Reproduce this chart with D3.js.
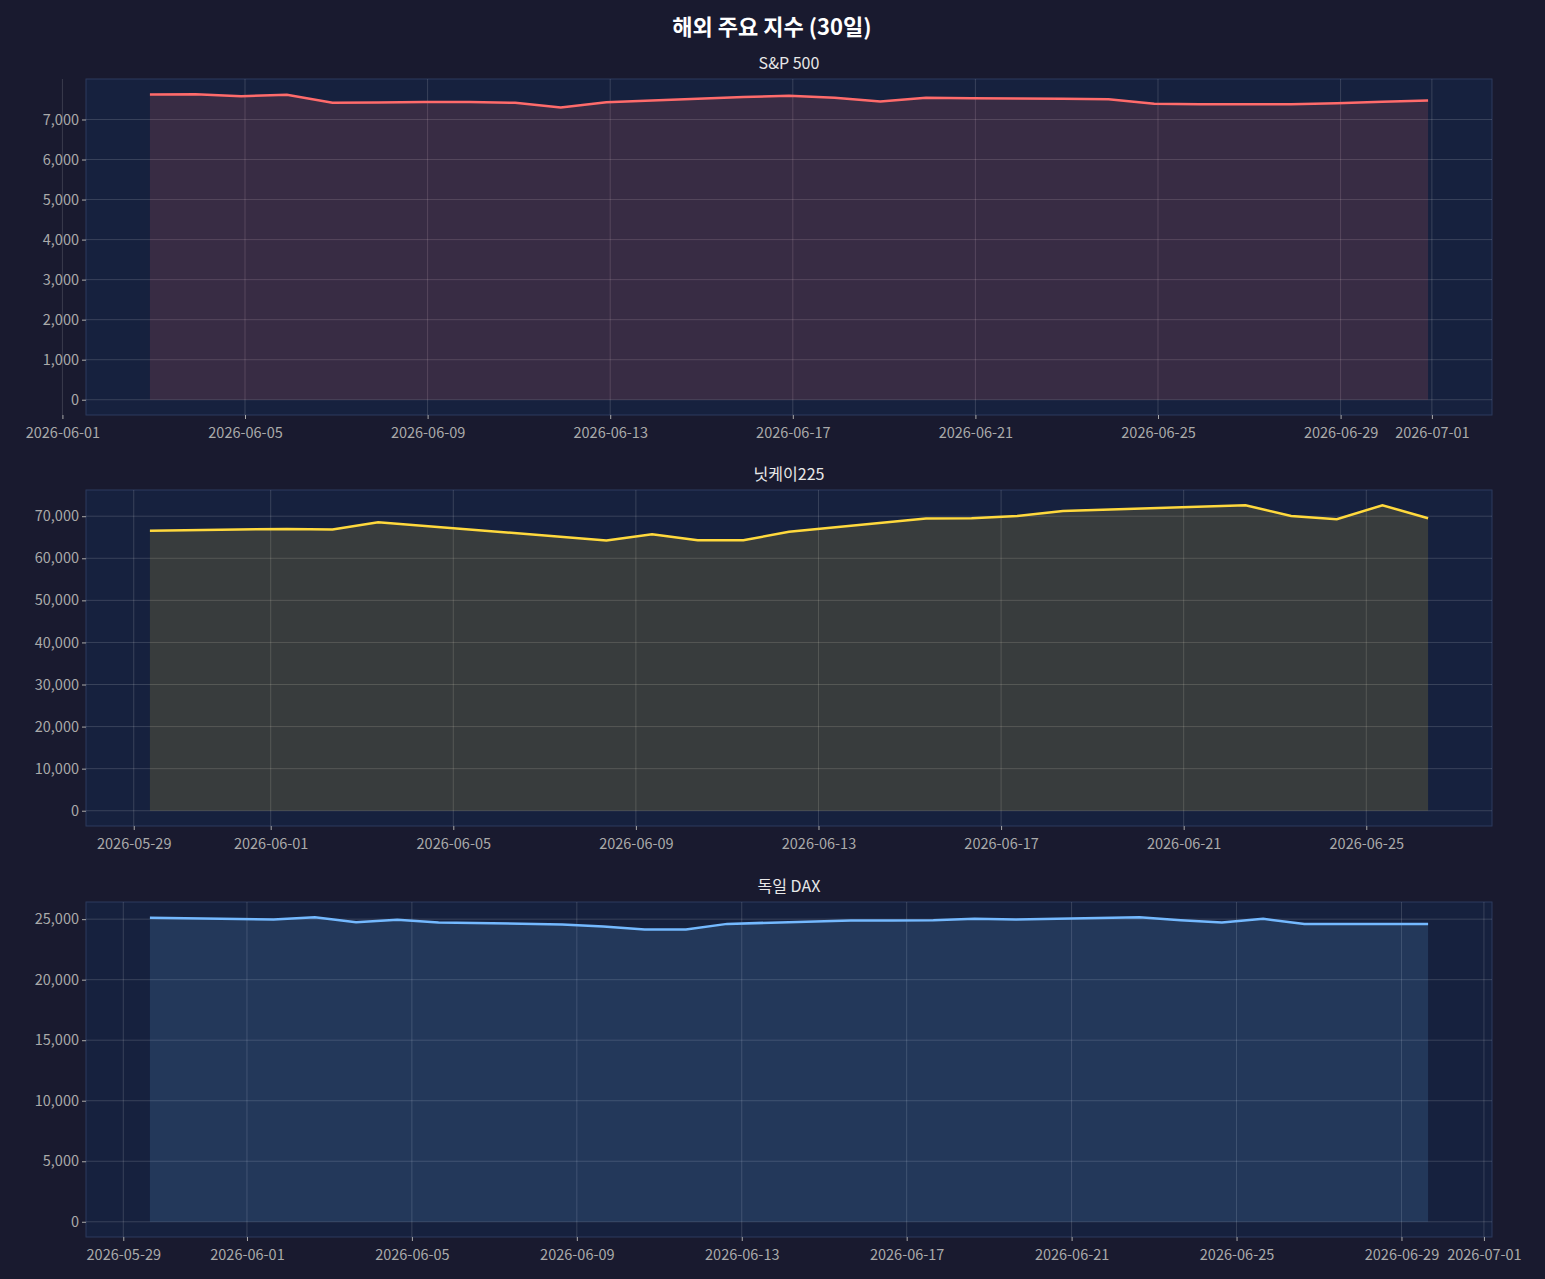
<!DOCTYPE html>
<html><head><meta charset="utf-8">
<script src="https://cdn.jsdelivr.net/npm/d3@7"></script>
<style>
body{margin:0;background:#191a2f;}
text{font-family:"Noto Sans CJK KR","Noto Sans",sans-serif;}
</style></head>
<body><svg id="chart" width="1545" height="1279"></svg>
<script>
// S&P 500 (daily, ~22:00)
const spDates = ["06-02","06-03","06-04","06-05","06-06","06-07","06-08","06-09","06-10","06-11","06-12","06-13","06-14","06-15","06-16","06-17","06-18","06-19","06-20","06-21","06-22","06-23","06-24","06-25","06-26","06-27","06-28","06-29","06-30"];
const spValues = [7625,7630,7583,7620,7417,7425,7435,7440,7417,7300,7433,7475,7517,7560,7592,7542,7450,7542,7533,7525,7517,7508,7392,7383,7383,7383,7408,7442,7475];
// 닛케이225 (trading days, ~08:30)
const nkDates = ["05-29","06-01","06-02","06-03","06-08","06-09","06-10","06-11","06-12","06-15","06-16","06-17","06-18","06-22","06-23","06-24","06-25","06-26"];
const nkValues = [66520,66990,66830,68580,64230,65730,64300,64300,66280,69450,69530,70070,71260,72600,70070,69290,72600,69530];
// 독일 DAX (trading days, ~15:30)
const daxDates = ["05-29","06-01","06-02","06-03","06-04","06-05","06-08","06-09","06-10","06-11","06-12","06-15","06-16","06-17","06-18","06-19","06-22","06-23","06-24","06-25","06-26","06-29"];
const daxValues = [25110,24970,25160,24750,24950,24730,24560,24400,24150,24150,24610,24890,24890,24920,25030,24970,25160,24920,24730,25030,24610,24610];

const spTicks = ["06-01","06-05","06-09","06-13","06-17","06-21","06-25","06-29","07-01"];
const nkTicks = ["05-29","06-01","06-05","06-09","06-13","06-17","06-21","06-25"];
const daxTicks = ["05-29","06-01","06-05","06-09","06-13","06-17","06-21","06-25","06-29","07-01"];

const parse = (md, h) => new Date(2026, +md.slice(0,2)-1, +md.slice(3), h);

const panels = [
  {title:"S&P 500", dates:spDates, values:spValues, hour:22, ticks:spTicks, yTicks:d3.range(0,7001,1000), color:"#ff6b6b", fill:"#ff6b6b", top:79, bottom:415},
  {title:"닛케이225", dates:nkDates, values:nkValues, hour:8.5, ticks:nkTicks, yTicks:d3.range(0,70001,10000), color:"#ffd93d", fill:"#ffd93d", top:490, bottom:826},
  {title:"독일 DAX", dates:daxDates, values:daxValues, hour:15.5, ticks:daxTicks, yTicks:d3.range(0,25001,5000), color:"#74b9ff", fill:"#74b9ff", top:902, bottom:1237}
];

const svg = d3.select("#chart");
const left = 86, right = 1492;

svg.append("text").attr("x", 772).attr("y", 35).attr("text-anchor","middle")
  .attr("fill","#ffffff").attr("font-size",22).attr("font-weight","bold").text("해외 주요 지수 (30일)");

panels.forEach(p => {
  const pts = p.dates.map((d,i) => ({t: new Date(parse(d,0).getTime() + p.hour*3600e3), v: p.values[i]}));
  const tExt = d3.extent(pts, d => d.t);
  const span = tExt[1]-tExt[0];
  const x = d3.scaleTime().domain([new Date(+tExt[0]-span*0.05), new Date(+tExt[1]+span*0.05)]).range([left, right]);
  const vmax = d3.max(p.values);
  const y = d3.scaleLinear().domain([-vmax*0.05, vmax*1.05]).range([p.bottom, p.top]);

  const g = svg.append("g");
  g.append("rect").attr("x",left).attr("y",p.top).attr("width",right-left).attr("height",p.bottom-p.top)
    .attr("fill","#16213e").attr("stroke","#2c3a5e");

  const tickDates = p.ticks.map(d => parse(d,0));
  // grid
  g.selectAll(".gx").data(tickDates).join("line")
    .attr("x1",d=>x(d)).attr("x2",d=>x(d)).attr("y1",p.top).attr("y2",p.bottom)
    .attr("stroke","#ffffff").attr("stroke-opacity",0.15);
  g.selectAll(".gy").data(p.yTicks).join("line")
    .attr("x1",left).attr("x2",right).attr("y1",d=>y(d)).attr("y2",d=>y(d))
    .attr("stroke","#ffffff").attr("stroke-opacity",0.15);

  // area + line
  g.append("path").datum(pts)
    .attr("d", d3.area().x(d=>x(d.t)).y0(y(0)).y1(d=>y(d.v)))
    .attr("fill", p.fill).attr("fill-opacity",0.15);
  g.append("path").datum(pts)
    .attr("d", d3.line().x(d=>x(d.t)).y(d=>y(d.v)))
    .attr("fill","none").attr("stroke",p.color).attr("stroke-width",2.5);

  // axes
  const xa = g.append("g").attr("transform",`translate(0,${p.bottom})`)
    .call(d3.axisBottom(x).tickValues(tickDates).tickFormat(d3.timeFormat("%Y-%m-%d")).tickSize(4));
  const ya = g.append("g").attr("transform",`translate(${left},0)`)
    .call(d3.axisLeft(y).tickValues(p.yTicks).tickFormat(d3.format(",")).tickSize(4));
  [xa, ya].forEach(a => {
    a.select(".domain").remove();
    a.selectAll("line").attr("stroke","#aaaaaa");
    a.selectAll("text").attr("fill","#aaaaaa").attr("font-size",14.5)
      .style("font-family","'Noto Sans CJK KR','Noto Sans',sans-serif");
  });
  xa.selectAll("text").attr("dy","1.1em");

  svg.append("text").attr("x",(left+right)/2).attr("y",p.top-10).attr("text-anchor","middle")
    .attr("fill","#e8e8e8").attr("font-size",16).text(p.title);
});
</script></body></html>
